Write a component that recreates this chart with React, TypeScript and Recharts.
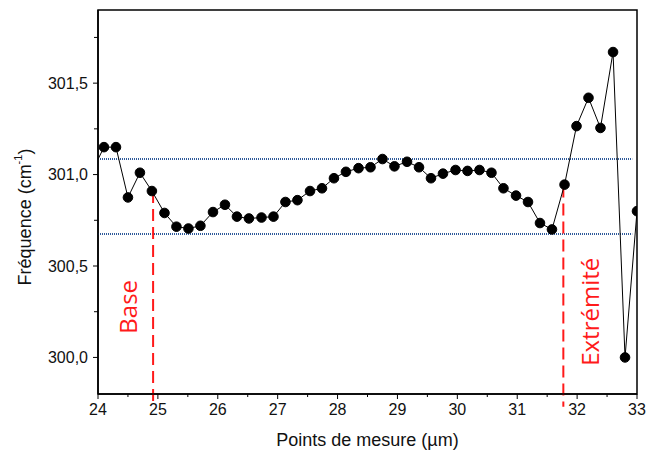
import { Label, Line, LineChart, ReferenceArea, ReferenceLine, XAxis, YAxis } from 'recharts';

const positions = [
  23.89, 24.1, 24.3, 24.5, 24.7, 24.9, 25.11, 25.31, 25.51, 25.71, 25.92, 26.12, 26.32, 26.52, 26.73, 26.93,
  27.13, 27.33, 27.54, 27.74, 27.94, 28.14, 28.35, 28.55, 28.75, 28.95, 29.16, 29.36, 29.56, 29.76, 29.97,
  30.17, 30.37, 30.57, 30.77, 30.98, 31.18, 31.38, 31.58, 31.79, 31.99, 32.19, 32.39, 32.6, 32.8, 33.0,
];
const frequencies = [
  301.01, 301.15, 301.15, 300.875, 301.01, 300.91, 300.79, 300.715, 300.705, 300.72, 300.795, 300.835, 300.77,
  300.76, 300.765, 300.77, 300.85, 300.86, 300.91, 300.925, 300.98, 301.015, 301.035, 301.04, 301.085, 301.045,
  301.07, 301.04, 300.98, 301.005, 301.025, 301.02, 301.025, 301.01, 300.925, 300.885, 300.85, 300.735, 300.7,
  300.945, 301.265, 301.42, 301.255, 301.67, 300.0, 300.8,
];

const xDomain = [24, 33];
const yDomain = [299.8, 301.9];
const xTicks = [24, 24.5, 25, 25.5, 26, 26.5, 27, 27.5, 28, 28.5, 29, 29.5, 30, 30.5, 31, 31.5, 32, 32.5, 33];
const yTicks = [300, 300.25, 300.5, 300.75, 301, 301.25, 301.5, 301.75];

// horizontal limits (blue dotted) and the two markers (red dashed)
const upperLimit = 301.085;
const lowerLimit = 300.675;
const limitStart = 24.0;
const limitEnd = 32.92;
const baseMarker = { x: 24.92, top: 300.91, label: 'Base' };
const tipMarker = { x: 31.77, top: 300.94, label: 'Extrémité' };
const markerBottom = 299.73;

const data = positions.map((x, i) => ({ x, y: frequencies[i] }));

const TICK_SIZE = 5;
const TICK_MARGIN = 5;

const isHalf = (v: number) => Math.abs(v * 2 - Math.round(v * 2)) < 1e-6;

function XTick(props: any) {
  const { x, y, payload } = props;
  const v = payload.value as number;
  const major = Number.isInteger(v);
  const axisY = y - TICK_SIZE - TICK_MARGIN;
  return (
    <g>
      <line x1={x} x2={x} y1={axisY} y2={axisY + (major ? 5 : 3)} stroke="#000" strokeWidth={1} />
      {major && (
        <text x={x} y={y} dy="0.71em" textAnchor="middle" fontSize={16} fill="#111">
          {v}
        </text>
      )}
    </g>
  );
}

function YTick(props: any) {
  const { x, y, payload } = props;
  const v = payload.value as number;
  const major = isHalf(v);
  const axisX = x + TICK_SIZE + TICK_MARGIN;
  return (
    <g>
      <line x1={axisX} x2={axisX - (major ? 5 : 4)} y1={y} y2={y} stroke="#000" strokeWidth={1} />
      {major && (
        <text x={x} y={y} dy="0.355em" textAnchor="end" fontSize={16} fill="#111">
          {v.toFixed(1).replace('.', ',')}
        </text>
      )}
    </g>
  );
}

function markerLabel(text: string, side: number, shift: number) {
  return (props: any) => {
    const vb = props.viewBox || {};
    const cx = (vb.x ?? 0) + side;
    const cy = (vb.y ?? 0) + (vb.height ?? 0) - shift;
    return (
      <text
        x={cx}
        y={cy}
        transform={`rotate(-90 ${cx} ${cy})`}
        textAnchor="middle"
        dominantBaseline="central"
        fontFamily="'Open Sans', sans-serif"
        fontSize={24}
        fill="#ff1a1a"
      >
        {text}
      </text>
    );
  };
}

export default function App() {
  return (
    <div
      style={{
        position: 'absolute',
        left: 0,
        top: 0,
        width: 647,
        height: 455,
        background: '#fff',
        fontFamily: "'Liberation Sans', Arial, sans-serif",
      }}
    >
      <LineChart width={647} height={455} data={data} margin={{ top: 10, right: 10, left: 0, bottom: 0 }}>
        <XAxis
          dataKey="x"
          type="number"
          domain={xDomain}
          ticks={xTicks}
          allowDataOverflow
          interval={0}
          height={61}
          tickSize={TICK_SIZE}
          tickMargin={TICK_MARGIN}
          tickLine={false}
          tick={<XTick />}
          axisLine={{ stroke: '#000', strokeWidth: 1.5 }}
        >
          <Label
            content={(props: any) => {
              const vb = props.viewBox;
              return (
                <text x={vb.x + vb.width / 2} y={vb.y + 52} textAnchor="middle" fontSize={18} fill="#111">
                  Points de mesure (µm)
                </text>
              );
            }}
          />
        </XAxis>
        <YAxis
          type="number"
          domain={yDomain}
          ticks={yTicks}
          allowDataOverflow
          interval={0}
          width={98}
          tickSize={TICK_SIZE}
          tickMargin={TICK_MARGIN}
          tickLine={false}
          tick={<YTick />}
          axisLine={{ stroke: '#000', strokeWidth: 1.5 }}
        >
          <Label
            content={(props: any) => {
              const vb = props.viewBox;
              const cx = vb.x + 25;
              const cy = vb.y + vb.height / 2 + 15;
              return (
                <text
                  x={cx}
                  y={cy}
                  transform={`rotate(-90 ${cx} ${cy})`}
                  textAnchor="middle"
                  dominantBaseline="central"
                  fontSize={18}
                  fill="#111"
                >
                  Fréquence (cm
                  <tspan fontSize={11} dy={-7}>
                    -1
                  </tspan>
                  <tspan dy={7}>)</tspan>
                </text>
              );
            }}
          />
        </YAxis>
        <ReferenceArea
          x1={xDomain[0]}
          x2={xDomain[1]}
          y1={yDomain[0]}
          y2={yDomain[1]}
          fill="none"
          fillOpacity={0}
          stroke="#000"
          strokeWidth={1.5}
        />
        <ReferenceLine
          segment={[
            { x: limitStart, y: upperLimit },
            { x: limitEnd, y: upperLimit },
          ]}
          stroke="#2f5a9a"
          strokeWidth={2}
          strokeDasharray="1 1"
        />
        <ReferenceLine
          segment={[
            { x: limitStart, y: lowerLimit },
            { x: limitEnd, y: lowerLimit },
          ]}
          stroke="#2f5a9a"
          strokeWidth={2}
          strokeDasharray="1 1"
        />
        <ReferenceLine
          segment={[
            { x: baseMarker.x, y: baseMarker.top },
            { x: baseMarker.x, y: markerBottom },
          ]}
          ifOverflow="visible"
          stroke="#ff1a1a"
          strokeWidth={2}
          strokeDasharray="12 6"
          label={markerLabel(baseMarker.label, -26, 100)}
        />
        <ReferenceLine
          segment={[
            { x: tipMarker.x, y: tipMarker.top },
            { x: tipMarker.x, y: markerBottom },
          ]}
          ifOverflow="visible"
          stroke="#ff1a1a"
          strokeWidth={2}
          strokeDasharray="12 6"
          label={markerLabel(tipMarker.label, 26, 95)}
        />
        <Line
          type="linear"
          dataKey="y"
          stroke="#000"
          strokeWidth={1}
          dot={{ r: 4.8, fill: '#000', stroke: '#000', strokeWidth: 1 }}
          isAnimationActive={false}
        />
      </LineChart>
    </div>
  );
}
